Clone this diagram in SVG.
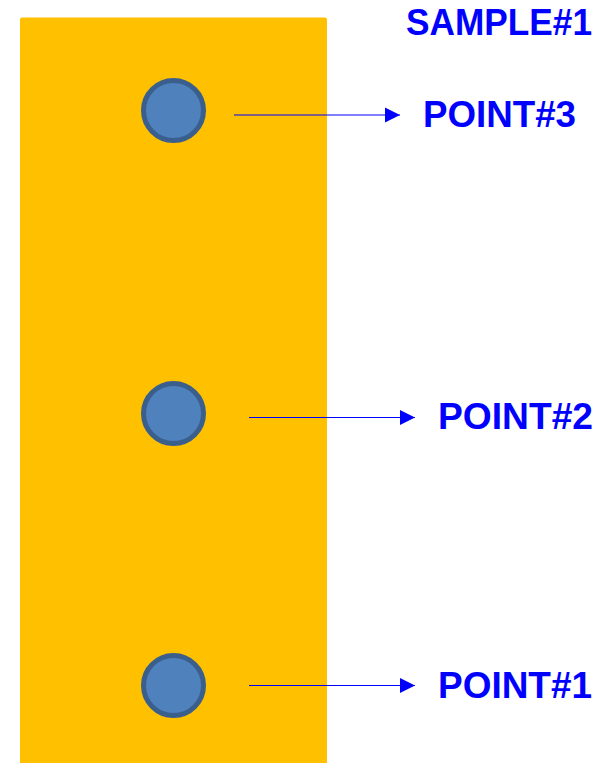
<svg xmlns="http://www.w3.org/2000/svg" width="598" height="763" viewBox="0 0 598 763">
<style>
.lbl{font-family:"Liberation Sans",Arial,sans-serif;font-weight:bold;font-size:36px;fill:#0000FF}
.pt{fill:#4F81BD;stroke:#3A5F8D;stroke-width:5}
.conn{stroke:#0000FF;stroke-width:1.2;fill:none}
</style>
<defs>
<marker id="ah" markerUnits="userSpaceOnUse" markerWidth="16" markerHeight="16" viewBox="0 0 16 16" refX="15" refY="8" orient="auto">
<path d="M0,0.5 L15,8 L0,15.5 Z" fill="#0000FF"/>
</marker>
</defs>
<g id="sample">
<rect x="20" y="17.5" width="307" height="750" rx="2" fill="#FFC000"/>
<text class="lbl" x="406" y="35" textLength="186" lengthAdjust="spacingAndGlyphs">SAMPLE#1</text>
</g>
<g id="point3">
<circle class="pt" cx="173.5" cy="110.5" r="30"/>
<text class="lbl" x="423" y="127" textLength="153" lengthAdjust="spacingAndGlyphs">POINT#3</text>
</g>
<g id="point2">
<circle class="pt" cx="173.5" cy="413.5" r="30"/>
<text class="lbl" x="438" y="429" textLength="155" lengthAdjust="spacingAndGlyphs">POINT#2</text>
</g>
<g id="point1">
<circle class="pt" cx="173.5" cy="685.5" r="30"/>
<text class="lbl" x="438" y="698" textLength="154" lengthAdjust="spacingAndGlyphs">POINT#1</text>
</g>
<g id="connectors">
<line class="conn" x1="234" y1="115" x2="400" y2="115" marker-end="url(#ah)"/>
<line class="conn" x1="249" y1="417.5" x2="415" y2="417.5" marker-end="url(#ah)"/>
<line class="conn" x1="249" y1="685.5" x2="415" y2="685.5" marker-end="url(#ah)"/>
</g>
</svg>
